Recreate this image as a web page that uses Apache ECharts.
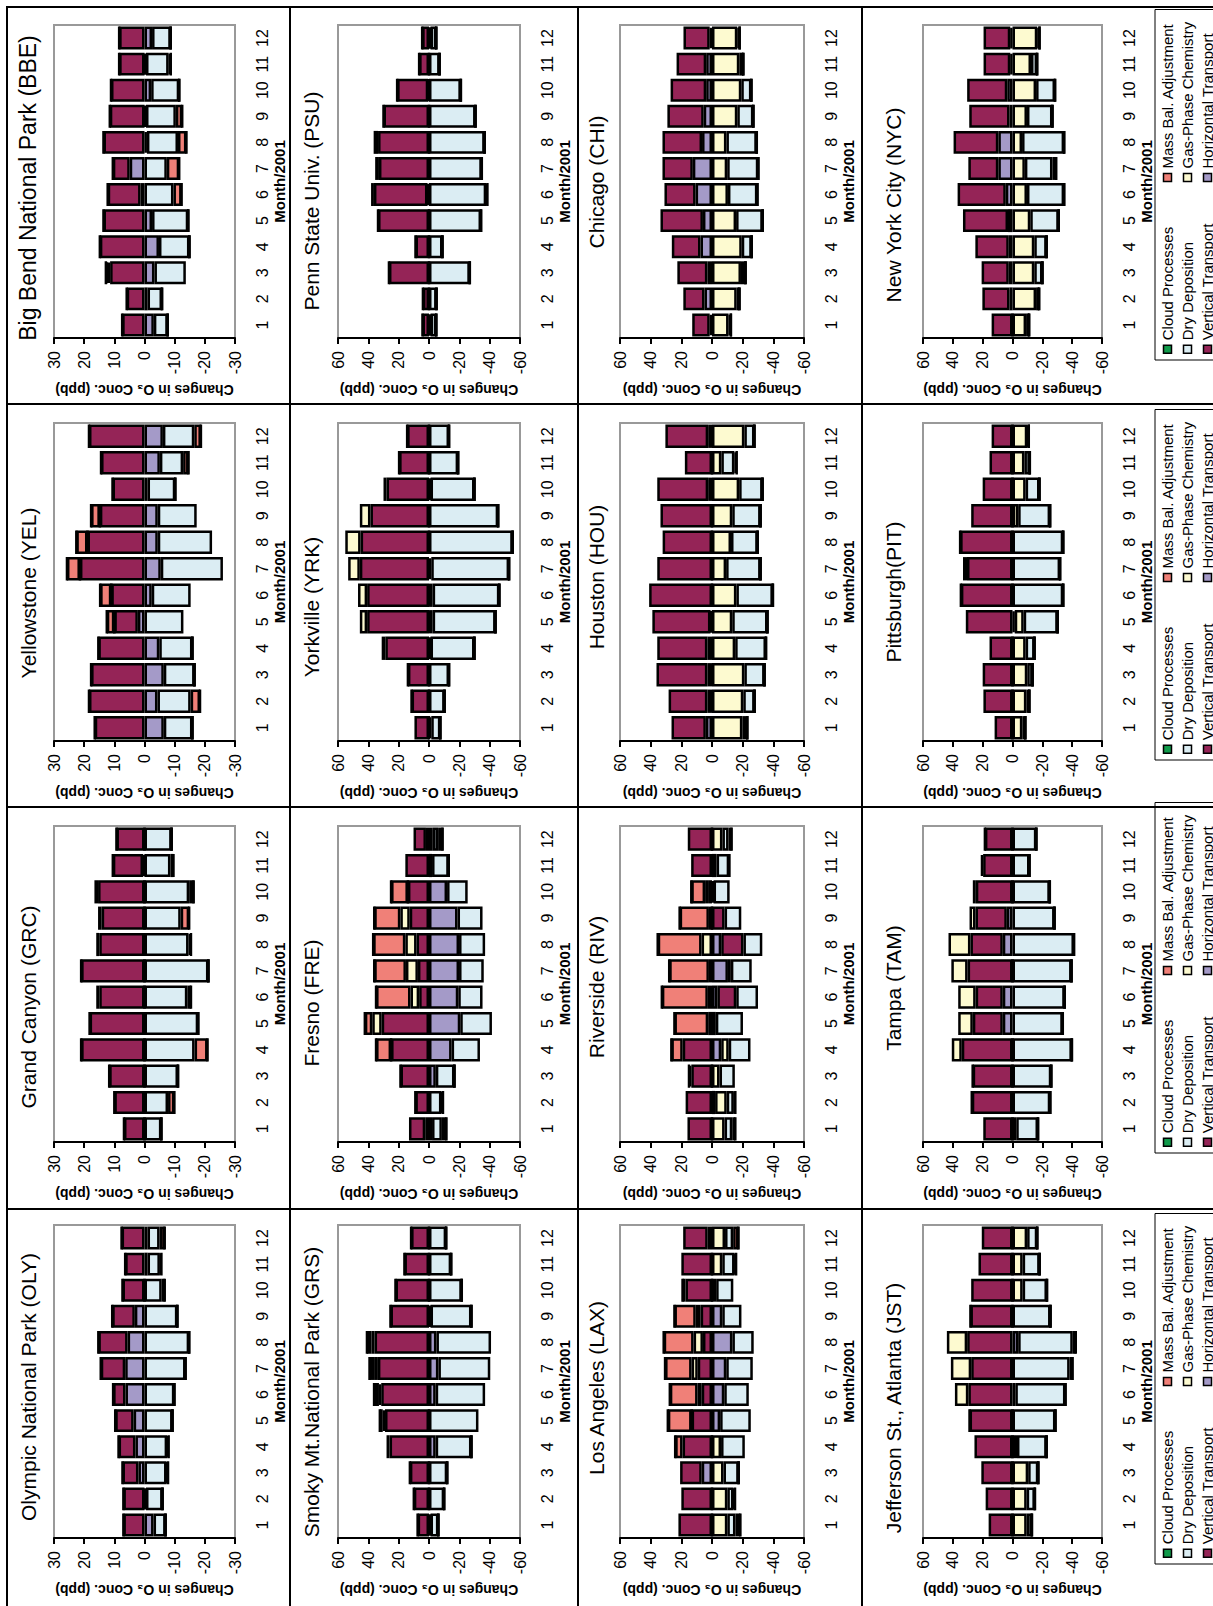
<!DOCTYPE html>
<html>
<head>
<meta charset="utf-8">
<script src="https://cdn.jsdelivr.net/npm/echarts@6.0.0/dist/echarts.min.js"></script>
<style>
    html, body { margin: 0; padding: 0; width: 1213px; height: 1606px; overflow: hidden; background: #fff; }
    /* the figure is laid out upright and then turned a quarter turn to the left */
    #chart { position: absolute; left: 0; top: 0; width: 1606px; height: 1213px; transform-origin: 0 0; transform: translateY(1606px) rotate(-90deg); }
</style>
</head>
<body>
<div id="chart"></div>
<script>
const months = ["1", "2", "3", "4", "5", "6", "7", "8", "9", "10", "11", "12"]
const cloud = [0, 0, 0, 0, 0, 0, 0, 0, 0, 0, 0, 0]

// Olympic National Park
const olyHor = [-3, -0.5, 2, 3, 3.6, 6.3, 6.4, 5.6, 3.2, 0, -1, -1]
const olyVert = [7, 7, 5.3, 5.6, 6.1, 4.1, 8.1, 9.7, 7.5, 7.3, 6.4, 7.6]
const olyGas = [0, 0, 0, 0, 0, 0, 0, 0, 0, 0, 0, 0]
const olyDry = [-4, -5.5, -7.3, -7.5, -9.3, -9.9, -13.6, -14.8, -10.9, -5.7, -4.1, -4]
const olyMass = [0, 0, -0.5, -0.5, 0, 0, 0, 0, 0, -1, -0.5, -1.7]

// Grand Canyon
const grcHor = [0, 0, 0, 0, 0, 0, 0, 0, 0, 0, 0.5, 0]
const grcVert = [6.8, 10, 11.7, 21, 18.2, 15, 21, 15, 14.2, 15.4, 10, 9.3]
const grcGas = [0, 0, 0, 0, 0, 1, 0, 1, 1.2, 1.2, 0, 0]
const grcDry = [-5.6, -7.8, -11.1, -16.6, -17.8, -14.2, -21.2, -14.6, -12, -14.8, -8.6, -9]
const grcMass = [0, -2.1, 0, -4.3, 0, -1.2, 0, -0.8, -2.8, -1.5, -1, 0]

// Yellowstone
const yelHor = [-6.4, -4.3, -6.4, -4.9, 2.2, -2.4, -5.4, -4.4, -4.4, -1, -5.1, -6.1]
const yelVert = [16.5, 18.4, 17.7, 15.3, 7.8, 11, 21.4, 18.9, 14.8, 10.6, 14.4, 18.4]
const yelGas = [0, 0, 0, 0, 0, 0, 0, 0, 0, 0, 0, 0]
const yelDry = [-9.5, -11, -10.2, -11, -12.9, -12.9, -20.6, -18, -12.9, -9.2, -7.7, -10.4]
const yelMass = [0, -3.1, 0, 0, 2.5, 3.7, 4.3, 3.7, 2.9, 0, -1.8, -2.2]

// Big Bend
const bbeHor = [-3.1, -1, -3.3, -4.8, -2.5, 1.3, 4.9, -0.8, -0.5, -2.2, -0.5, -2.5]
const bbeVert = [7.4, 5.9, 11.4, 14.8, 13.6, 10.9, 5.6, 13.6, 11.5, 11.1, 8.4, 8.4]
const bbeGas = [0, 0, 0.8, 0, 0, 0, 0, 0, 0, 0, 0, 0]
const bbeDry = [-4.6, -4.8, -10.4, -10.1, -12, -9.6, -7.4, -10.3, -9.9, -9.3, -7.5, -6.2]
const bbeMass = [0, 0, 0.6, 0, 0, -2.7, -4.1, -2.8, -2.1, 0, -0.7, 0]

// Smoky Mt.
const grsHor = [-1, 0, 0, -4.4, 0, -4.4, -6.2, -4.9, -1, 0, 0, 0]
const grsVert = [7.5, 10, 12.6, 26, 29, 31.5, 33.7, 35.9, 25.4, 22.1, 16.2, 11.8]
const grsGas = [0, 0, 0, 2, 1.5, 1.5, 2.5, 2, 0, 0, 0, 0]
const grsDry = [-5.2, -10, -12, -23.6, -32.6, -32.6, -34.2, -36, -27, -21.6, -14.6, -11.3]
const grsMass = [0, 0, 0, 0, 1.9, 3.2, 3, 3, 0, 0, 0, 0]

// Fresno
const freHor = [2.5, 0, -4.5, -14.9, -20.6, -19.3, -19.8, -19.8, -18.8, -11.9, 0, 2]
const freVert = [10.7, 9, 18.8, 25, 31.2, 6.5, 7.3, 8.2, 12.7, 13.9, 15.6, 8.2]
const freGas = [-2, 0, 0, 0, 6.2, 5.7, 7.9, 7.4, 6.2, 0, -2, -2.5]
const freDry = [-6.5, -8.2, -12.3, -18.7, -20.9, -16, -16.3, -17.2, -16.5, -13.6, -11, -3.5]
const freMass = [-3, -1, 0, 9.9, 4.9, 22.7, 20.9, 21.2, 17.2, 11.1, 0, -3]

// Yorkville
const yrkHor = [0, 0, 0, -1, -2.4, -2.4, -1.5, 0, 0, -1, 0, 0]
const yrkVert = [9.6, 11.5, 13.9, 28.8, 40.8, 40.8, 45.6, 45.1, 38.6, 28, 19.7, 14.4]
const yrkGas = [-1.5, 0, 0, 2.4, 4.8, 6, 7.7, 10.1, 7, 2, 0, 0]
const yrkDry = [-6, -10.3, -13.2, -29, -41.5, -44, -51.3, -55.2, -45.6, -29, -19.2, -13.2]
const yrkMass = [0, 0, 0, 0, 0, 0, 0, 0, 0, 0, 0, 0]

// Penn State
const psuHor = [-1, 0, 0, 0, 0, 1, 0, 0, 0, 0.5, 0, -1]
const psuVert = [4.3, 4, 26.4, 8.9, 33.6, 35.3, 33, 33.6, 30, 20.5, 6.5, 4.5]
const psuGas = [0, 0, 0, 0, 0, 1.9, 2.5, 2.9, 0, 0, 0, 0]
const psuDry = [-3.8, -5, -26.9, -8.9, -34.3, -37.7, -34.8, -36.7, -30.7, -21, -7, -3.8]
const psuMass = [0, 0, 0, 0, 0, -0.8, 0, 0, 0, 0, 0, 0]

// Los Angeles
const laxHor = [0, 0, 6.7, 0, -5.3, -8, -9.3, -13.3, -6.7, 0, 0, 2.8]
const laxVert = [21.9, 20, 14.1, 19.2, 13.3, 6.7, 9.3, 5.9, 7.4, 17.3, 20, 16]
const laxGas = [-10, -10, -7.5, -5.9, 0, 2.7, 4, 6.1, 3.2, -2.7, -6.7, -8.5]
const laxDry = [-5.3, -4, -9.9, -15.5, -20, -16, -17.3, -13.9, -12.5, -11.2, -8, -5.3]
const laxMass = [-3.2, -1, 0, 4.8, 15.5, 18.1, 17.3, 19.5, 13.9, 1.9, -1, -3.5]

// Riverside
const rivHor = [0, -2, 0, -6, 0, -3.5, -10.4, -6, 0, 2, 0, 0]
const rivVert = [16, 17.2, 13.5, 19.1, -2.5, -12.3, -1.9, -14.5, -8.2, 2.5, 13.6, 15.8]
const rivGas = [-8.2, -7.6, -4.9, -4.9, 2.5, 2.7, 2, 6.8, 2, -1, -3, -6.8]
const rivDry = [-5, -4.6, -10, -14.2, -17.7, -14.2, -13.6, -12.3, -10.9, -10.5, -8.2, -4]
const rivMass = [-2, -1, 1.5, 7.4, 22, 30, 25.9, 28.6, 19.1, 9, 0, -2]

// Houston
const houHor = [4, 3, 3, 3, 1, 0, 0, 0, 0, 2.5, 0, 2.5]
const houVert = [22.4, 25.3, 33.2, 32.7, 37.9, 41, 35.7, 32.2, 33.6, 33.2, 17.7, 27.9]
const houGas = [-19.8, -20.4, -21.1, -15.1, -13.2, -15.9, -9.2, -12.4, -13.2, -17.7, -6.1, -21.1]
const houDry = [-3.2, -7.4, -13.2, -20.1, -23, -23.8, -22.5, -17.4, -18.5, -15.3, -8.5, -6.6]
const houMass = [0, 0, 0, 0, 0, 0, 0, 0, 0, 0, -1.5, 0]

// Chicago
const chiHor = [1.5, 4.9, 3, 7.5, 5.9, 10.7, 12.5, 6.5, 5.4, 3.8, 3.8, 1.5]
const chiVert = [11.4, 13.8, 19.6, 18.7, 27.7, 20.3, 19.8, 25.8, 23.7, 23.2, 19.3, 17.1]
const chiGas = [-10.8, -16.1, -18.9, -19.4, -15.7, -10.4, -9.9, -9.4, -16.5, -19.1, -17.8, -16.5]
const chiDry = [-1.5, -1.8, -3, -6.5, -17.4, -19.2, -20.3, -19.8, -10.5, -6.6, -2.6, -1.5]
const chiMass = [0, 0, 0, 0, 0, 0, 0, 0, 0, 0, 0, 0]

// Jefferson St., Atlanta
const jstHor = [0, 0, 0, 0, 0, -1.9, 0, -3.8, 0, 0, 0, 0]
const jstVert = [16, 18, 20.9, 25.5, 28.8, 29.6, 27.7, 30.4, 28.2, 27.7, 22.8, 20.6]
const jstGas = [-9.5, -9.5, -10.5, -3, 0, 9, 13.6, 13.6, 0, -6.8, -6.8, -9.8]
const jstDry = [-3.5, -5.5, -6.8, -19.9, -28.8, -33.6, -38.3, -36.6, -25.5, -16.3, -11.4, -6.8]
const jstMass = [0, 0, 0, 0, 0, 0, -2, -2, 0, 0, 0, 0]

// Tampa
const tamHor = [0, 0, 0, 0, 6.5, 6.5, 0, 6.5, 3.8, 0, 0, 0]
const tamVert = [19.6, 27.3, 26.7, 34, 20.1, 18.2, 30.1, 21.7, 21, 24.6, 19.7, 18.5]
const tamGas = [-2.5, 0, 0, 6.7, 9.8, 11.7, 10.9, 14.7, 4, 2, 1.5, 0]
const tamDry = [-14.6, -25.3, -26, -39.8, -33.7, -35, -39.6, -41.2, -28.2, -25, -11.4, -16]
const tamMass = [0, 0, 0, 0, 0, 0, 0, 0, 0, 0, 0, 0]

// Pittsburgh
const pitHor = [0, 0, 0, 0, -1.5, 0, 0, 0, 0, 0, 0, 0]
const pitVert = [12, 19.5, 20, 15.4, 31.3, 34.6, 30.5, 35.1, 27.7, 20, 15.4, 14]
const pitGas = [-6.6, -9.3, -9.9, -8.8, -6, 0, 2.7, 0, -3.8, -8.8, -8, -9.9]
const pitDry = [-2, -2, -3.6, -6, -22.8, -34, -31.9, -34, -21.4, -9.3, -3.6, -1]
const pitMass = [0, 0, 0, 0, 0, 0, 0, 0, 0, 0, 0, 0]

// New York City
const nycHor = [0, 2, 2.5, 2.5, 3, 4.5, 9.5, 9.5, 2, 3.5, 1.5, 1.5]
const nycVert = [14, 18.2, 18.2, 22.4, 30.2, 32.3, 20.1, 30, 27, 26.9, 17.9, 17.9]
const nycGas = [-9.1, -15.8, -14.6, -14.6, -11.9, -9.7, -8.3, -6.4, -9.7, -15.8, -12.4, -16.6]
const nycDry = [-2, -2, -5.5, -8.3, -19.1, -24.9, -18.5, -28.2, -17.1, -12.7, -4.1, -1.5]
const nycMass = [0, 0, 0, 0, 0, 0, -2.5, 0, 0, 0, 0, 0]

const legendOrder = ["Cloud Processes", "Mass Bal. Adjustment", "Dry Deposition", "Gas-Phase Chemistry", "Vertical Transport", "Horizontal Transport"]

// stacking order, from the zero line outwards
const components = [
    { name: "Horizontal Transport", key: "hor", color: "#a49ac8" },
    { name: "Vertical Transport", key: "vert", color: "#952457" },
    { name: "Gas-Phase Chemistry", key: "gas", color: "#fdfad0" },
    { name: "Dry Deposition", key: "dry", color: "#dbedf3" },
    { name: "Mass Bal. Adjustment", key: "mass", color: "#f08078" },
    { name: "Cloud Processes", key: "cloud", color: "#109a4a" },
]

const panels = [
    { title: "Olympic National Park (OLY)", row: 0, col: 0, tx: 219, range: 30, hor: olyHor, vert: olyVert, gas: olyGas, dry: olyDry, mass: olyMass },
    { title: "Grand Canyon (GRC)", row: 0, col: 1, tx: 599, range: 30, hor: grcHor, vert: grcVert, gas: grcGas, dry: grcDry, mass: grcMass },
    { title: "Yellowstone (YEL)", row: 0, col: 2, tx: 1013, range: 30, hor: yelHor, vert: yelVert, gas: yelGas, dry: yelDry, mass: yelMass },
    { title: "Big Bend National Park (BBE)", row: 0, col: 3, tx: 1418, range: 30, size: 23, hor: bbeHor, vert: bbeVert, gas: bbeGas, dry: bbeDry, mass: bbeMass },
    { title: "Smoky Mt.National Park (GRS)", row: 1, col: 0, tx: 214, range: 60, hor: grsHor, vert: grsVert, gas: grsGas, dry: grsDry, mass: grsMass },
    { title: "Fresno (FRE)", row: 1, col: 1, tx: 603, range: 60, hor: freHor, vert: freVert, gas: freGas, dry: freDry, mass: freMass },
    { title: "Yorkville (YRK)", row: 1, col: 2, tx: 999, range: 60, hor: yrkHor, vert: yrkVert, gas: yrkGas, dry: yrkDry, mass: yrkMass },
    { title: "Penn State Univ. (PSU)", row: 1, col: 3, tx: 1405, range: 60, hor: psuHor, vert: psuVert, gas: psuGas, dry: psuDry, mass: psuMass },
    { title: "Los Angeles (LAX)", row: 2, col: 0, tx: 218, range: 60, hor: laxHor, vert: laxVert, gas: laxGas, dry: laxDry, mass: laxMass },
    { title: "Riverside (RIV)", row: 2, col: 1, tx: 619, range: 60, hor: rivHor, vert: rivVert, gas: rivGas, dry: rivDry, mass: rivMass },
    { title: "Houston (HOU)", row: 2, col: 2, tx: 1029, range: 60, hor: houHor, vert: houVert, gas: houGas, dry: houDry, mass: houMass },
    { title: "Chicago (CHI)", row: 2, col: 3, tx: 1424, range: 60, hor: chiHor, vert: chiVert, gas: chiGas, dry: chiDry, mass: chiMass },
    { title: "Jefferson St., Atlanta (JST)", row: 3, col: 0, tx: 198, range: 60, hor: jstHor, vert: jstVert, gas: jstGas, dry: jstDry, mass: jstMass },
    { title: "Tampa (TAM)", row: 3, col: 1, tx: 618, range: 60, hor: tamHor, vert: tamVert, gas: tamGas, dry: tamDry, mass: tamMass },
    { title: "Pittsburgh(PIT)", row: 3, col: 2, tx: 1014, range: 60, hor: pitHor, vert: pitVert, gas: pitGas, dry: pitDry, mass: pitMass },
    { title: "New York City (NYC)", row: 3, col: 3, tx: 1401, range: 60, hor: nycHor, vert: nycVert, gas: nycGas, dry: nycDry, mass: nycMass },
]

// layout of the upright figure (1606 x 1213)
const colLeft = [68, 464, 865, 1268]
const colRight = [381, 780, 1183, 1581]
const rowTop = [54, 338, 620, 923]
const rowBottom = [235, 520, 804, 1102]
const titleY = [28, 311, 596, 893]
const boxX = [-4, 397, 799, 1202, 1599]
const boxY = [7, 290, 578, 862, 1240]
const legendLeft = [42, 453, 846, 1246]

const font = "'Liberation Sans', Arial, sans-serif"

const grid = []
const xAxis = []
const yAxis = []
const series = []
const graphic = []
const legend = []

panels.forEach((p, i) => {
    grid.push({
        left: colLeft[p.col],
        top: rowTop[p.row],
        width: colRight[p.col] - colLeft[p.col],
        height: rowBottom[p.row] - rowTop[p.row],
        show: true,
        borderColor: "#999",
        borderWidth: 2,
        backgroundColor: "transparent",
        containLabel: false,
        outerBoundsMode: "none",
    })
    xAxis.push({
        type: "category",
        gridIndex: i,
        data: months,
        axisLine: { show: false },
        axisTick: { show: false },
        splitLine: { show: false },
        axisLabel: { interval: 0, margin: 19, fontSize: 16, color: "#000", fontFamily: font },
        name: "Month/2001",
        nameLocation: "middle",
        nameGap: 37,
        nameTextStyle: { fontSize: 15, fontWeight: "bold", color: "#000", fontFamily: font },
    })
    yAxis.push({
        type: "value",
        gridIndex: i,
        min: -p.range,
        max: p.range,
        interval: p.range / 3,
        axisLine: { show: true, onZero: false, lineStyle: { color: "#000", width: 2 } },
        axisTick: { show: true, length: 6, lineStyle: { color: "#000", width: 2 } },
        axisLabel: { margin: 13, fontSize: 16, color: "#000", fontFamily: font },
        splitLine: { show: false },
        name: "Changes in O\u2083 Conc. (ppb)",
        nameLocation: "middle",
        nameRotate: 90,
        nameGap: 45,
        nameTextStyle: { fontSize: 14, fontWeight: "bold", color: "#000", fontFamily: font },
    })
    components.forEach((c) => {
        series.push({
            type: "bar",
            name: c.name,
            xAxisIndex: i,
            yAxisIndex: i,
            stack: "panel" + i,
            data: c.key === "cloud" ? cloud : p[c.key],
            barCategoryGap: "12%",
            itemStyle: { color: c.color, borderColor: "#000", borderWidth: 2.5 },
            emphasis: { disabled: true },
        })
    })
    graphic.push({
        type: "text",
        x: p.tx,
        y: titleY[p.row],
        silent: true,
        style: {
            text: p.title,
            font: (p.size || 21) + "px " + font,
            fill: "#000",
            textAlign: "center",
            textVerticalAlign: "middle",
        },
    })
    graphic.push({
        type: "rect",
        silent: true,
        shape: {
            x: boxX[p.col],
            y: boxY[p.row],
            width: boxX[p.col + 1] - boxX[p.col],
            height: boxY[p.row + 1] - boxY[p.row],
        },
        style: { fill: "none", stroke: "#000", lineWidth: 2 },
    })
    if (p.row === 3) {
        legend.push({
            left: legendLeft[p.col],
            top: 1155,
            width: 360,
            orient: "horizontal",
            icon: "rect",
            itemWidth: 8,
            itemHeight: 8,
            itemGap: 5,
            padding: [5, 6],
            borderColor: "#000",
            borderWidth: 1,
            selectedMode: false,
            data: legendOrder,
            itemStyle: { borderColor: "#000", borderWidth: 1.5 },
            textStyle: { fontSize: 15, color: "#000", width: 153, lineHeight: 15, fontFamily: font },
        })
    }
})

const chart = echarts.init(document.getElementById("chart"), null, { renderer: "svg" })
chart.setOption({
    animation: false,
    backgroundColor: "#fff",
    textStyle: { fontFamily: font },
    tooltip: { show: false },
    grid: grid,
    xAxis: xAxis,
    yAxis: yAxis,
    legend: legend,
    graphic: graphic,
    series: series,
})
</script>
</body>
</html>
